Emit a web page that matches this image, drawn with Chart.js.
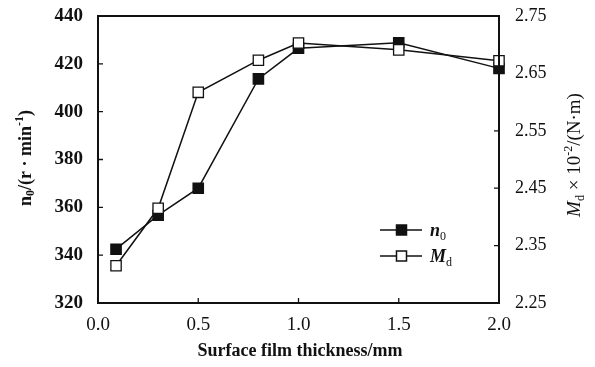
<!DOCTYPE html>
<html>
<head>
<meta charset="utf-8">
<script src="https://cdn.jsdelivr.net/npm/chart.js@4"></script>
<style>
html, body { margin: 0; padding: 0; background: #fff; }
#wrap { width: 595px; height: 367px; position: relative; }
</style>
</head>
<body>
<div id="wrap"><canvas id="filmChart"></canvas></div>
<script>
// surface film thickness (mm)
const thickness = [0.09, 0.3, 0.5, 0.8, 1.0, 1.5, 2.0];
// n0 in r/min (left axis)
const n0Values = [342.5, 356.7, 368, 413.7, 426.5, 428.8, 418.1];
// Md x 10^-2 N·m (right axis)
const mdValues = [2.315, 2.415, 2.617, 2.673, 2.703, 2.691, 2.672];

const xTicks = [0, 0.5, 1.0, 1.5, 2.0];
const leftTicks = [320, 340, 360, 380, 400, 420, 440];
const rightTicks = [2.25, 2.35, 2.45, 2.55, 2.65, 2.75];

const SERIF = "'Liberation Serif', 'DejaVu Serif', serif";
const INK = '#111';

// draws text pieces with sub/superscripts; centred on cx unless alignLeft
function drawRich(ctx, parts, cx, cy, size, alignLeft) {
    const fontOf = p => (p.italic ? 'italic ' : '') + (p.bold ? 'bold ' : '') +
        Math.round(p.pos ? size * 0.65 : size) + 'px ' + SERIF;
    let total = 0;
    parts.forEach(p => { ctx.font = fontOf(p); total += ctx.measureText(p.t).width; });
    let x = alignLeft ? cx : cx - total / 2;
    ctx.textBaseline = 'middle';
    ctx.textAlign = 'left';
    parts.forEach(p => {
        ctx.font = fontOf(p);
        let dy = 0;
        if (p.pos === 'sub') dy = size * 0.3;
        if (p.pos === 'sup') dy = -size * 0.35;
        ctx.fillText(p.t, x, cy + dy);
        x += ctx.measureText(p.t).width;
    });
}

const framePlugin = {
    id: 'frame',
    afterDraw(chart) {
        const ctx = chart.ctx;
        const a = chart.chartArea;
        const sx = chart.scales.x, sy = chart.scales.y, sr = chart.scales.y1;
        ctx.save();
        ctx.strokeStyle = INK;
        ctx.fillStyle = INK;
        ctx.lineWidth = 2;
        ctx.strokeRect(a.left, a.top, a.right - a.left, a.bottom - a.top);

        // inward tick marks
        ctx.lineWidth = 1.3;
        ctx.beginPath();
        leftTicks.slice(1, -1).forEach(v => {
            const y = sy.getPixelForValue(v);
            ctx.moveTo(a.left, y); ctx.lineTo(a.left + 5, y);
        });
        rightTicks.slice(1, -1).forEach(v => {
            const y = sr.getPixelForValue(v);
            ctx.moveTo(a.right, y); ctx.lineTo(a.right - 5, y);
        });
        xTicks.slice(1, -1).forEach(v => {
            const x = sx.getPixelForValue(v);
            ctx.moveTo(x, a.bottom); ctx.lineTo(x, a.bottom - 5);
        });
        ctx.stroke();

        // axis titles
        drawRich(ctx, [{ t: 'Surface film thickness/mm', bold: true }], 300, 351, 18);

        ctx.save();
        ctx.translate(26, 158);
        ctx.rotate(-Math.PI / 2);
        drawRich(ctx, [
            { t: 'n', bold: true },
            { t: '0', bold: true, pos: 'sub' },
            { t: '/(r · min', bold: true },
            { t: '-1', bold: true, pos: 'sup' },
            { t: ')', bold: true }
        ], 0, 0, 18);
        ctx.restore();

        ctx.save();
        ctx.translate(575, 155);
        ctx.rotate(-Math.PI / 2);
        drawRich(ctx, [
            { t: 'M', italic: true },
            { t: 'd', pos: 'sub' },
            { t: ' × 10' },
            { t: '-2', pos: 'sup' },
            { t: '/(N·m)' }
        ], 0, 0, 19);
        ctx.restore();

        // legend
        const rows = [
            { y: 230, fill: INK, parts: [{ t: 'n', bold: true, italic: true }, { t: '0', pos: 'sub' }] },
            { y: 256, fill: '#fff', parts: [{ t: 'M', bold: true, italic: true }, { t: 'd', pos: 'sub' }] }
        ];
        rows.forEach(r => {
            ctx.lineWidth = 1.5;
            ctx.beginPath();
            ctx.moveTo(380, r.y); ctx.lineTo(422, r.y);
            ctx.stroke();
            ctx.fillStyle = r.fill;
            ctx.fillRect(396.5, r.y - 5, 10, 10);
            ctx.strokeRect(396.5, r.y - 5, 10, 10);
            ctx.fillStyle = INK;
            drawRich(ctx, r.parts, 430, r.y + 1, 18, true);
        });
        ctx.restore();
    }
};

new Chart(document.getElementById('filmChart'), {
    type: 'line',
    data: {
        datasets: [
            {
                label: 'n0',
                data: thickness.map((x, i) => ({ x: x, y: n0Values[i] })),
                yAxisID: 'y',
                order: 2,
                clip: false,
                borderColor: INK,
                borderWidth: 1.5,
                backgroundColor: INK,
                pointStyle: 'rect',
                pointRadius: 7.3,
                pointBackgroundColor: INK,
                pointBorderColor: INK,
                pointBorderWidth: 1.3,
                tension: 0
            },
            {
                label: 'Md',
                data: thickness.map((x, i) => ({ x: x, y: mdValues[i] })),
                yAxisID: 'y1',
                order: 1,
                clip: false,
                borderColor: INK,
                borderWidth: 1.5,
                backgroundColor: '#fff',
                pointStyle: 'rect',
                pointRadius: 7.3,
                pointBackgroundColor: '#fff',
                pointBorderColor: INK,
                pointBorderWidth: 1.3,
                tension: 0
            }
        ]
    },
    options: {
        responsive: true,
        maintainAspectRatio: false,
        animation: false,
        layout: { padding: { top: 16, left: 0, right: 0, bottom: 0 } },
        plugins: {
            legend: { display: false },
            tooltip: { enabled: false }
        },
        scales: {
            x: {
                type: 'linear',
                min: 0, max: 2,
                grid: { display: false, drawTicks: false },
                border: { display: false },
                afterBuildTicks: s => { s.ticks = xTicks.map(v => ({ value: v })); },
                afterFit: s => { s.height = 64; s.paddingLeft = 0; s.paddingRight = 0; },
                ticks: {
                    color: INK, font: { family: SERIF, size: 19 }, padding: 11, maxRotation: 0,
                    callback: v => Number(v).toFixed(1)
                }
            },
            y: {
                position: 'left',
                min: 320, max: 440,
                grid: { display: false, drawTicks: false },
                border: { display: false },
                afterBuildTicks: s => { s.ticks = leftTicks.map(v => ({ value: v })); },
                afterFit: s => { s.width = 98; s.paddingTop = 0; s.paddingBottom = 0; },
                ticks: { color: INK, font: { family: SERIF, size: 19, weight: 'bold' }, padding: 15 }
            },
            y1: {
                position: 'right',
                min: 2.25, max: 2.75,
                grid: { display: false, drawTicks: false },
                border: { display: false },
                afterBuildTicks: s => { s.ticks = rightTicks.map(v => ({ value: v })); },
                afterFit: s => { s.width = 96; s.paddingTop = 0; s.paddingBottom = 0; },
                ticks: {
                    color: INK, font: { family: SERIF, size: 18 }, padding: 16,
                    callback: v => Number(v).toFixed(2)
                }
            }
        }
    },
    plugins: [framePlugin]
});
</script>
</body>
</html>
